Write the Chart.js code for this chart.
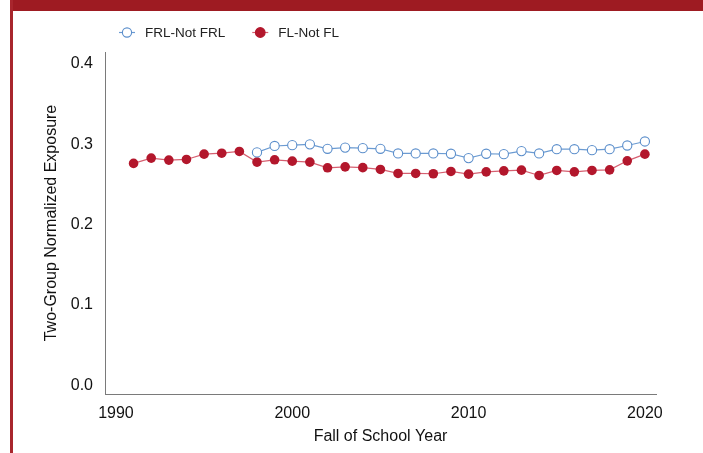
<!DOCTYPE html>
<html><head><meta charset="utf-8">
<script src="https://cdn.jsdelivr.net/npm/chart.js@4"></script>
<style>
html,body{margin:0;padding:0;background:#fff;width:703px;height:453px;overflow:hidden;}
#band{position:absolute;left:10px;top:0;width:693px;height:11px;background:#9e1b22;}
#border{position:absolute;left:10px;top:0;width:3px;height:453px;background:#a8262d;}
#wrap{position:absolute;left:0;top:0;width:703px;height:453px;}
</style></head>
<body>
<div id="wrap"><canvas id="c" width="703" height="453"></canvas></div>
<div id="band"></div><div id="border"></div>
<script>
const years = [1991,1992,1993,1994,1995,1996,1997,1998,1999,2000,2001,2002,2003,2004,2005,2006,2007,2008,2009,2010,2011,2012,2013,2014,2015,2016,2017,2018,2019,2020];
const frlYears = [1998,1999,2000,2001,2002,2003,2004,2005,2006,2007,2008,2009,2010,2011,2012,2013,2014,2015,2016,2017,2018,2019,2020];
const frlNotFrl = [0.290,0.298,0.299,0.300,0.2945,0.296,0.2953,0.2945,0.2887,0.2887,0.2887,0.2883,0.2829,0.2883,0.2878,0.2916,0.2887,0.294,0.294,0.2928,0.294,0.2986,0.3036];
const flNotFl = [0.2763,0.2829,0.2804,0.2812,0.2878,0.289,0.2912,0.2779,0.2808,0.2791,0.2779,0.2708,0.272,0.271,0.2688,0.2638,0.2638,0.2634,0.2663,0.2629,0.2658,0.267,0.2679,0.2613,0.2675,0.2658,0.2675,0.2683,0.2795,0.2878];
const xTicks = [1990,2000,2010,2020];
const yTicks = [0,0.1,0.2,0.3,0.4];
const seriesLabels = ['FRL-Not FRL','FL-Not FL'];

const legendPlugin = {
  id:'customLegend',
  afterDraw(chart){
    const ctx = chart.ctx;
    ctx.save();
    ctx.font = '13.5px "Liberation Sans", Arial, sans-serif';
    ctx.textBaseline = 'middle';
    let cx = 127; const cy = 32.5;
    chart.data.datasets.forEach(ds=>{
      ctx.strokeStyle = ds.borderColor; ctx.lineWidth = 1.2;
      ctx.beginPath(); ctx.moveTo(cx-8,cy); ctx.lineTo(cx+8,cy); ctx.stroke();
      ctx.beginPath(); ctx.arc(cx,cy,ds.pointRadius,0,Math.PI*2);
      ctx.fillStyle = ds.pointBackgroundColor; ctx.fill();
      ctx.strokeStyle = ds.pointBorderColor; ctx.lineWidth = ds.pointBorderWidth; ctx.stroke();
      ctx.fillStyle = '#222';
      ctx.fillText(ds.label, cx+18, cy+0.5);
      cx = cx + 18 + ctx.measureText(ds.label).width + 35;
    });
    ctx.restore();
  }
};

new Chart(document.getElementById('c'), {
  type:'line',
  data:{
    datasets:[
      {label:seriesLabels[0], data:frlYears.map((x,i)=>({x:x,y:frlNotFrl[i]})),
       borderColor:'#6b9bd2', borderWidth:1.2, pointRadius:4.6, pointBorderWidth:1.1,
       pointBackgroundColor:'#ffffff', pointBorderColor:'#5b8ecb', tension:0},
      {label:seriesLabels[1], data:years.map((x,i)=>({x:x,y:flNotFl[i]})),
       borderColor:'#d65f70', borderWidth:1.2, pointRadius:4.8, pointBorderWidth:0,
       pointBackgroundColor:'#b3172c', pointBorderColor:'#b3172c', tension:0}
    ]
  },
  options:{
    responsive:false, animation:false, devicePixelRatio:1,
    layout:{padding:{left:0,right:47,top:52,bottom:0}},
    plugins:{legend:{display:false}, tooltip:{enabled:false}},
    scales:{
      x:{type:'linear', min:1989.38, max:2020.63,
         afterBuildTicks(s){ s.ticks = xTicks.map(v=>({value:v})); },
         afterFit(s){ s.height = 59; },
         grid:{display:false, drawTicks:false},
         border:{display:true, color:'#7a7a7a', width:1},
         ticks:{color:'#111', font:{family:'"Liberation Sans", Arial, sans-serif', size:16}, padding:10, callback:v=>String(v)},
         title:{display:true, text:'Fall of School Year', color:'#111', font:{family:'"Liberation Sans", Arial, sans-serif', size:16}, padding:{top:0,bottom:7}}
      },
      y:{type:'linear', min:-0.0108, max:0.415,
         afterBuildTicks(s){ s.ticks = yTicks.map(v=>({value:v})); },
         afterFit(s){ s.width = 105; },
         grid:{display:false, drawTicks:false},
         border:{display:true, color:'#7a7a7a', width:1},
         ticks:{color:'#111', font:{family:'"Liberation Sans", Arial, sans-serif', size:16}, padding:12, callback:v=>v.toFixed(1)},
         title:{display:true, text:'Two-Group Normalized Exposure', color:'#111', font:{family:'"Liberation Sans", Arial, sans-serif', size:16}, padding:{top:42,bottom:0}}
      }
    }
  },
  plugins:[legendPlugin]
});
</script>
</body></html>
